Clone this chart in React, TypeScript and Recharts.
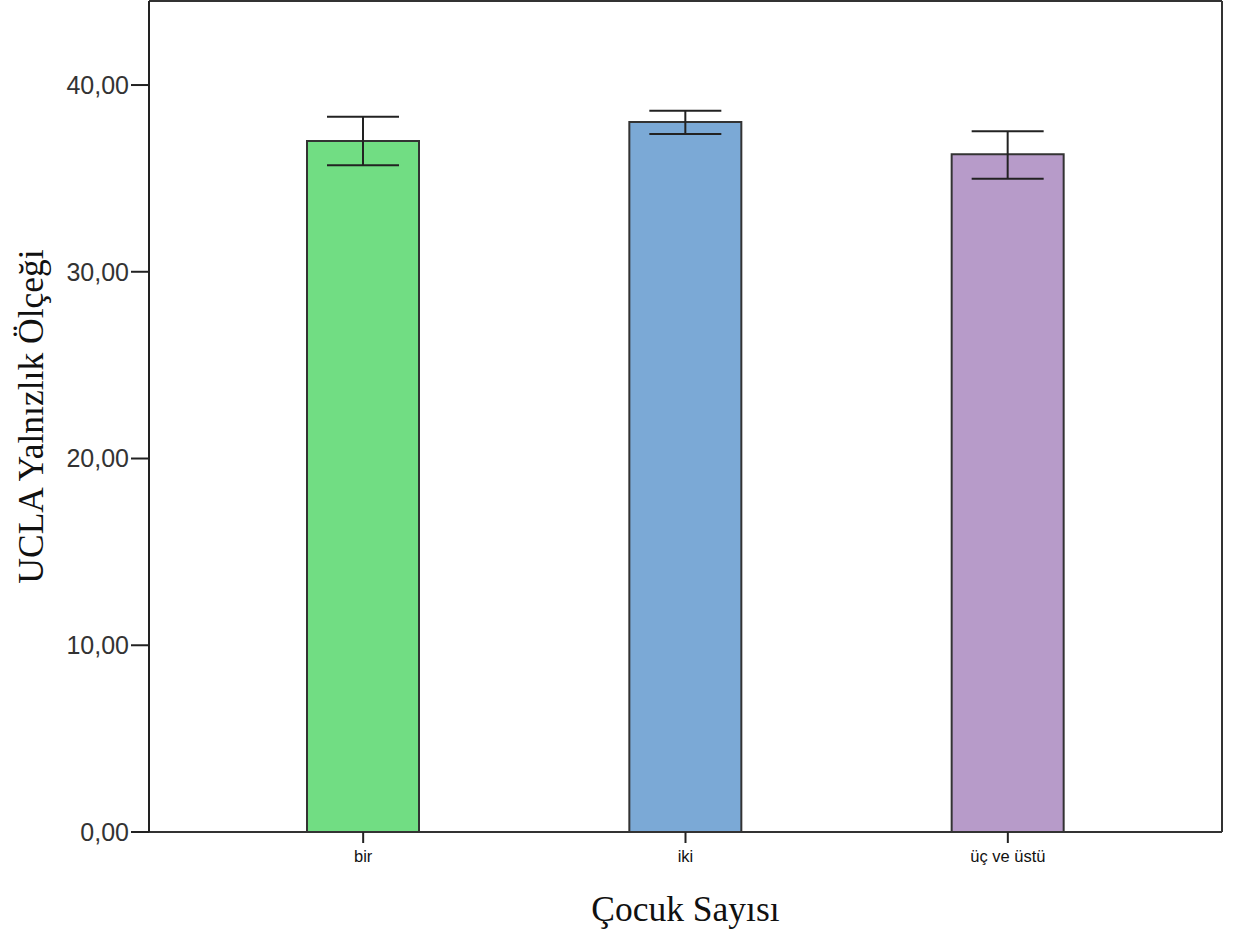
import React from "react";
import { BarChart, Bar, XAxis, YAxis, ErrorBar, Cell } from "recharts";

const categories = ["bir", "iki", "üç ve üstü"];
const means = [37.0, 38.02, 36.3];
const lowerErr = [1.3, 0.64, 1.32];
const upperErr = [1.3, 0.6, 1.22];
const barColors = ["#71DD83", "#7BA9D6", "#B79BC9"];
const yTicks = [0, 10, 20, 30, 40];

const data = categories.map((c, i) => ({
  name: c,
  value: means[i],
  err: [lowerErr[i], upperErr[i]],
}));

const fmt = (v: number) => v.toFixed(2).replace(".", ",");

export default function App() {
  return (
    <div style={{ position: "absolute", left: 0, top: 0, background: "#fff" }}>
      <BarChart
        width={1233}
        height={933}
        data={data}
        margin={{ top: 0, right: 0, bottom: 0, left: 0 }}
        barCategoryGap={0}
      >
        <XAxis
          dataKey="name"
          padding={{ left: 53, right: 53 }}
          axisLine={{ stroke: "#333", strokeWidth: 2 }}
          tickLine={{ stroke: "#222", strokeWidth: 2 }}
          tickSize={11}
          tickMargin={7}
          tick={{ fill: "#111", fontSize: 16.5, fontFamily: "Liberation Sans, Arial, sans-serif" }}
          height={101}
          label={{
            value: "Çocuk Sayısı",
            position: "insideBottom",
            offset: 12,
            fill: "#111",
            fontSize: 35.5,
            fontFamily: "Liberation Serif, Times New Roman, serif",
          }}
        />
        <XAxis
          xAxisId="top"
          orientation="top"
          dataKey="name"
          padding={{ left: 53, right: 53 }}
          tick={false}
          tickLine={false}
          height={1}
          axisLine={{ stroke: "#333", strokeWidth: 2 }}
        />
        <YAxis
          domain={[0, 44.5]}
          ticks={yTicks}
          tickFormatter={fmt}
          width={149}
          tickSize={18}
          tickMargin={2}
          axisLine={{ stroke: "#222", strokeWidth: 2 }}
          tickLine={{ stroke: "#222", strokeWidth: 2 }}
          tick={{ fill: "#333", fontSize: 25, fontFamily: "Liberation Sans, Arial, sans-serif" }}
          label={{
            value: "UCLA Yalnızlık Ölçeği",
            angle: -90,
            position: "insideLeft",
            offset: 0,
            dx: 30,
            fill: "#111",
            fontSize: 35.5,
            fontFamily: "Liberation Serif, Times New Roman, serif",
            style: { textAnchor: "middle" },
          }}
        />
        <YAxis
          yAxisId="r"
          orientation="right"
          domain={[0, 44.5]}
          tick={false}
          tickLine={false}
          width={11}
          axisLine={{ stroke: "#333", strokeWidth: 2 }}
        />
        <Bar dataKey="value" barSize={112} stroke="#333" strokeWidth={2} isAnimationActive={false}>
          {data.map((d, i) => (
            <Cell key={d.name} fill={barColors[i]} />
          ))}
          <ErrorBar dataKey="err" width={36} stroke="#222" strokeWidth={2} direction="y" />
        </Bar>
      </BarChart>
    </div>
  );
}
